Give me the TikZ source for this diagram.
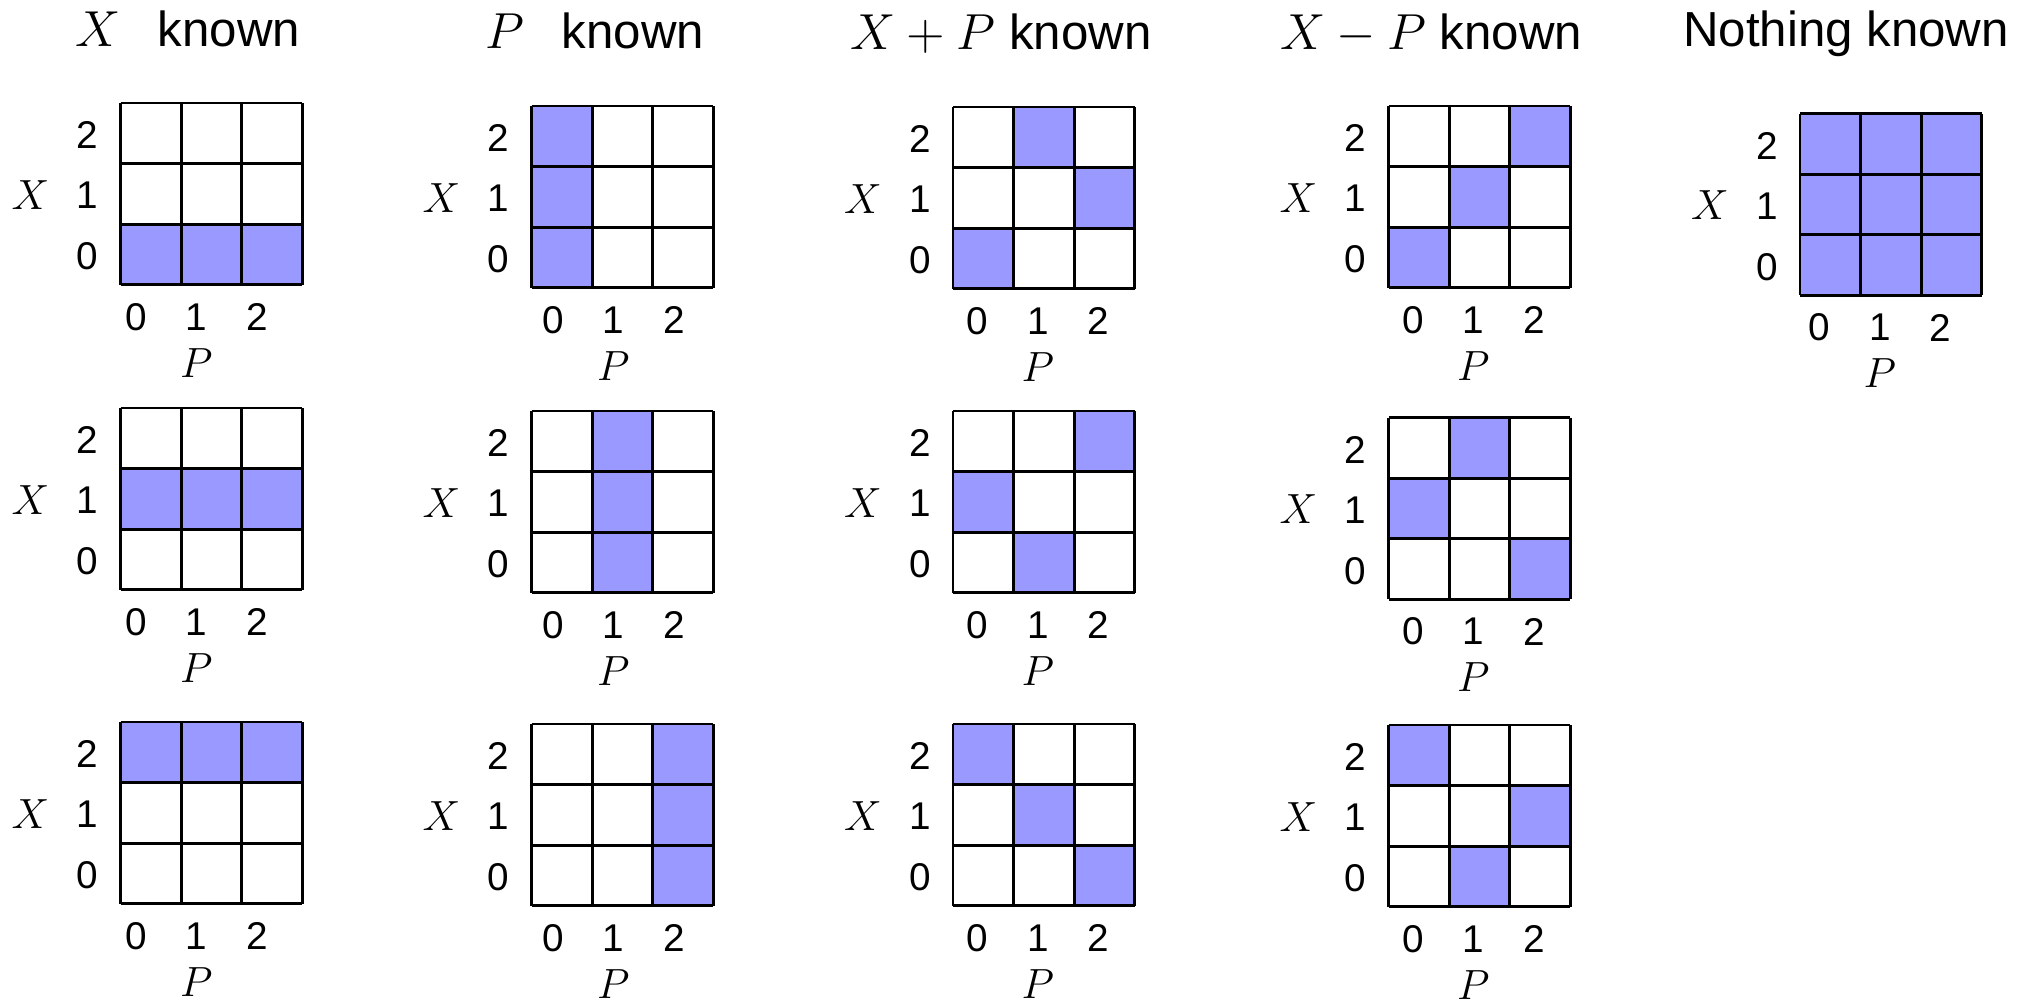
\documentclass[tikz,border=0pt]{standalone}
\usepackage{fontspec}
\setmainfont{Liberation Sans}
\usepackage{tikz}
\definecolor{cellc}{HTML}{9999FF}
\tikzset{
  cell/.style={draw=black,line width=0.8pt},
  num/.style={font=\fontsize{11}{13}\selectfont,inner sep=0pt},
  axl/.style={font=\fontsize{11.5}{13}\selectfont,inner sep=0pt},
  ttl/.style={font=\fontsize{14}{16}\selectfont,anchor=base,inner sep=0pt}
}

\begin{document}
\begin{tikzpicture}[x=0.01cm,y=-0.01cm]
\useasboundingbox (0,0) rectangle (2028,1003);
% titles
\node[ttl] (t1) at (188,47) {$X$\hspace{0.75em}known};
\node[ttl] (t2) at (595,48) {$P$\hspace{0.75em}known};
\node[ttl] (t3) at (1001,49) {$X+P$ known};
\node[ttl] (t4) at (1431,49) {$X-P$ known};
\node[ttl] (t5) at (1846,47) {Nothing known};
% grids: name / left / top / label shift / shaded cells (P/X)
\foreach \g/\gx/\gy/\sx/\cells in {
  a1/120.5/103/-15/{0/0,1/0,2/0}, a2/120.5/408/-15/{0/1,1/1,2/1}, a3/120.5/722/-15/{0/2,1/2,2/2},
  b1/531.5/106/-9/{0/0,0/1,0/2}, b2/531.5/411/-9/{1/0,1/1,1/2}, b3/531.5/724/-9/{2/0,2/1,2/2},
  c1/953/107/-6/{0/0,2/1,1/2}, c2/953/411/-6/{1/0,0/1,2/2}, c3/953/724/-6/{2/0,1/1,0/2},
  d1/1388.5/106/-6/{0/0,1/1,2/2}, d2/1388.5/417.5/-6/{0/1,1/2,2/0}, d3/1388.5/725/-6/{0/2,1/0,2/1},
  e1/1800/113.5/-11/{0/0,1/0,2/0,0/1,1/1,2/1,0/2,1/2,2/2}}{
\begin{scope}[shift={(\gx,\gy)}]
\foreach \c/\r in \cells {\fill[cellc] ({\c*60.6},{(2-\r)*60.6}) rectangle ++(60.6,60.6);}
\foreach \k in {0,1,2,3}{
  \draw[cell] ({\k*60.6},0) -- ({\k*60.6},181.8);
  \draw[cell] (0,{\k*60.6}) -- (181.8,{\k*60.6});
}
\foreach \i in {0,1,2}{
  \node[num] (\g-r\i) at (-33,{(2-\i)*60.6+32}) {\i};
  \node[num] (\g-c\i) at ({\i*60.6+30.3+\sx},214) {\i};
}
\node[axl] (\g-X) at (-90,92) {$X$};
\node[axl] (\g-P) at ({90.9+\sx},260) {$P$};
\end{scope}
}
\end{tikzpicture}
\end{document}
